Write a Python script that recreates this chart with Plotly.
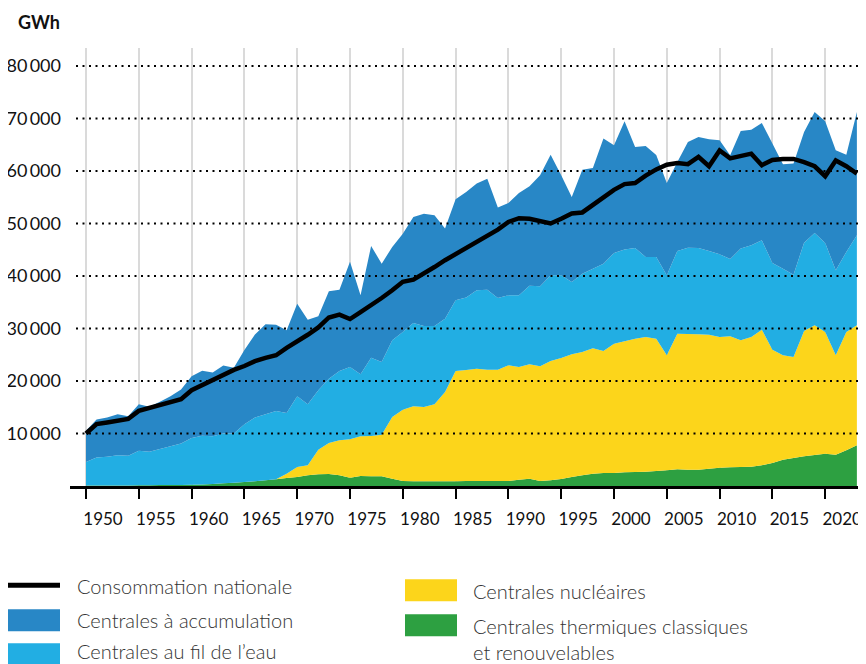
import plotly.graph_objects as go

years = list(range(1950, 2024))

# Centrales thermiques classiques et renouvelables (GWh)
thermal = [100, 100, 100, 100, 100, 150, 150, 200, 200, 200,
           250, 300, 400, 500, 600, 750, 900, 1100, 1300, 1520,
           1710, 2030, 2220, 2290, 2030, 1590, 1900, 1840, 1840, 1400,
           950, 890, 890, 890, 890, 890, 950, 950, 950, 950,
           950, 1210, 1400, 950, 1080, 1330, 1710, 2030, 2350, 2480,
           2480, 2600, 2670, 2730, 2860, 2980, 3170, 3110, 3110, 3300,
           3490, 3560, 3620, 3680, 3940, 4380, 5020, 5330, 5650, 5900,
           6160, 5970, 6790, 7750]

# Centrales nucléaires
nuclear = [0] * 19 + [830,
           1910, 1910, 4700, 5900, 6670, 7300, 7560, 7680, 7940, 11740,
           13590, 14280, 14160, 14670, 17010, 21010, 21150, 21400, 21210, 21210,
           22030, 21460, 21770, 21840, 22730, 23050, 23370, 23490, 23870, 23230,
           24630, 24960, 25390, 25650, 25200, 21910, 25850, 25840, 25780, 25530,
           24890, 24950, 24130, 24700, 25840, 21590, 19870, 19240, 23870, 24700,
           23170, 18920, 22540, 22850]

# Centrales au fil de l'eau
run_of_river = [4490, 5330, 5450, 5770, 5640, 6540, 6350, 6870, 7380, 7890,
                8910, 9250, 9090, 9500, 9400, 11030, 12150, 12580, 13000, 11550,
                13460, 11620, 11300, 12250, 13200, 13780, 11810, 14920, 13840, 14610,
                14790, 15880, 15430, 14920, 13970, 13470, 13800, 14920, 15240, 13650,
                13340, 13650, 14990, 15240, 16320, 15750, 13780, 14920, 15180, 16640,
                17270, 17460, 17270, 15240, 15560, 15240, 15740, 16450, 16440, 15930,
                15750, 14730, 17460, 17460, 17010, 16510, 16510, 15680, 16830, 17590,
                16960, 16190, 15240, 17150]

# Centrales à accumulation
storage = [5910, 7240, 7500, 7810, 7560, 8900, 8570, 8960, 9530, 10290,
           11760, 12380, 12130, 12960, 12500, 14100, 15820, 17150, 16400, 15750,
           17650, 16120, 14100, 16640, 15500, 20060, 15050, 21270, 18730, 17770,
           18730, 20190, 21390, 21080, 17150, 19230, 20100, 20320, 21140, 17210,
           17580, 19490, 18920, 21140, 22980, 19040, 16190, 19810, 19170, 23810,
           20510, 24440, 19240, 21140, 19430, 17580, 16950, 20120, 21150, 21270,
           21710, 19740, 22410, 22030, 22350, 22730, 19870, 21150, 21080, 23050,
           23170, 22860, 18540, 23490]

# Consommation nationale
consumption = [10000, 11780, 12100, 12400, 12790, 14310, 14820, 15400, 15970, 16540,
               18250, 19210, 20290, 21300, 22120, 22850, 23780, 24400, 24900, 26300,
               27500, 28800, 30200, 32100, 32650, 31800, 33100, 34400, 35800, 37270,
               38900, 39300, 40400, 41700, 43000, 44200, 45300, 46480, 47620, 48830,
               50290, 51000, 50900, 50400, 50000, 50900, 51900, 52100, 53600, 55000,
               56400, 57500, 57700, 59100, 60300, 61200, 61500, 61300, 62700, 60900,
               63900, 62400, 62800, 63300, 61100, 62100, 62300, 62300, 61700, 60900,
               59000, 62000, 60900, 59500]

y_ticks = [10000, 20000, 30000, 40000, 50000, 60000, 70000, 80000]
y_ticktext = ["10\u2009000", "20\u2009000", "30\u2009000", "40\u2009000",
              "50\u2009000", "60\u2009000", "70\u2009000", "80\u2009000"]
x_ticks = list(range(1950, 2021, 5))

C_THERM = "#2DA041"
C_NUC = "#FCD51B"
C_ROR = "#22AEE3"
C_STO = "#2887C6"

series = [
    ("Centrales thermiques classiques et renouvelables", thermal, C_THERM),
    ("Centrales nucléaires", nuclear, C_NUC),
    ("Centrales au fil de l’eau", run_of_river, C_ROR),
    ("Centrales à accumulation", storage, C_STO),
]

FONT = "Lato"
fig = go.Figure()
for name, vals, col in series:
    fig.add_trace(go.Scatter(x=years, y=vals, name=name, stackgroup="one",
                             mode="none", fillcolor=col, line=dict(width=0),
                             showlegend=False))
fig.add_trace(go.Scatter(x=years, y=consumption, name="Consommation nationale",
                         mode="lines", line=dict(color="black", width=4.5),
                         showlegend=False))

# page has an 8px body margin: figure coordinates = screen coordinates - 8
OFF = 8
W, H = 866 - OFF, 664 - OFF
L, T = 70 - OFF, 48 - OFF
PLOT_BOTTOM = 485.8 - OFF
B = H - PLOT_BOTTOM
pw = W - L
ph = H - T - B


def px(x):
    return (x - OFF - L) / pw


def py(y):
    return (PLOT_BOTTOM - (y - OFF)) / ph


shapes = []
for v in y_ticks:
    shapes.append(dict(type="line", xref="paper", yref="y", x0=px(76), x1=1,
                       y0=v, y1=v, layer="above",
                       line=dict(color="black", width=2, dash="2px,4.5px")))

# legend swatches
shapes.append(dict(type="line", xref="paper", yref="paper", x0=px(8), x1=px(60),
                   y0=py(585), y1=py(585), line=dict(color="black", width=5)))
legend_boxes = [
    (8, 60, 609, 631, C_STO),
    (8, 60, 643, 664, C_ROR),
    (405, 457, 579, 601, C_NUC),
    (405, 457, 614, 636, C_THERM),
]
for x0, x1, y0, y1, col in legend_boxes:
    shapes.append(dict(type="rect", xref="paper", yref="paper",
                       x0=px(x0), x1=px(x1), y0=py(y1), y1=py(y0),
                       fillcolor=col, line=dict(width=0)))

annotations = [
    dict(text="<b>GWh</b>", x=px(16), y=py(22), xanchor="left", yanchor="middle",
         font=dict(size=18, color="#111", family=FONT)),
]
legend_texts = [
    ("Consommation nationale", 75, 585.5),
    ("Centrales à accumulation", 75, 620),
    ("Centrales au fil de l’eau", 75, 651),
    ("Centrales nucléaires", 471, 591),
    ("Centrales thermiques classiques<br>et renouvelables", 471, 639),
]
for txt, x, y in legend_texts:
    annotations.append(dict(text=txt, x=px(x), y=py(y), xanchor="left",
                            yanchor="middle", align="left",
                            font=dict(size=20, color="#333", family=FONT,
                                      weight=300)))
for a in annotations:
    a.update(xref="paper", yref="paper", showarrow=False)

fig.update_layout(
    width=W, height=H,
    margin=dict(l=L, r=0, t=T, b=B, pad=0, autoexpand=False),
    paper_bgcolor="white", plot_bgcolor="white",
    font=dict(family=FONT, color="#111"),
    xaxis=dict(range=[1950 - 16 / 10.56, 1950 + 780 / 10.56],
               tickvals=x_ticks, ticktext=[str(t) for t in x_ticks],
               ticklabelshift=17, ticklabelstandoff=6, automargin=False,
               showgrid=True, gridcolor="#dadada", gridwidth=2,
               showline=True, linecolor="black", linewidth=2.5,
               ticks="outside", ticklen=10, tickwidth=2, tickcolor="black",
               tickfont=dict(size=17, color="#111"), zeroline=False),
    yaxis=dict(range=[0, 83420], tickvals=y_ticks, ticktext=y_ticktext,
               showgrid=False, zeroline=False, ticks="", showline=False,
               automargin=False,
               tickfont=dict(size=18, color="#111"), ticklabelstandoff=8),
    shapes=shapes,
    annotations=annotations,
    showlegend=False,
)

fig.write_html("out.html")
